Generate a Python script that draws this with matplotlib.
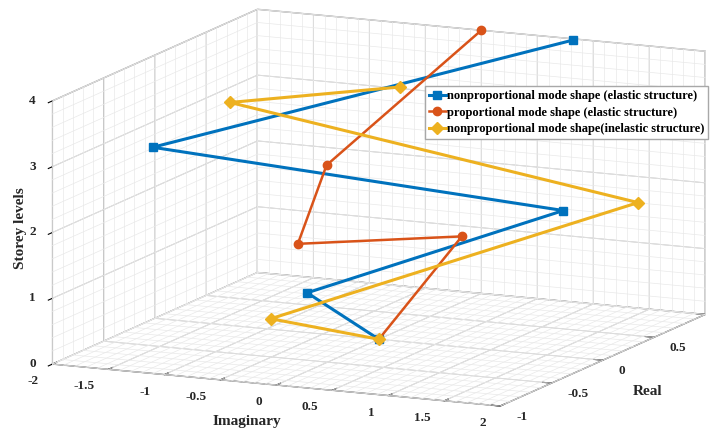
import numpy as np
import matplotlib
matplotlib.use("Agg")
import matplotlib.pyplot as plt
from mpl_toolkits.mplot3d import proj3d

# storey levels and mode shape components (imaginary, real)
storey = [0, 1, 2, 3, 4]

np_el_imag = [0, -0.21, 1.41, -1.58, 0.84]
np_el_real = [0, -0.47, 0.26, -0.48, 0.98]

p_el_imag = [0, 0, 0, 0, 0]
p_el_real = [0, 0.81, -0.79, -0.51, 1.0]

np_inel_imag = [0, -0.05, 1.83, -1.75, 0.34]
np_inel_real = [0, -1.0, 0.53, 0.46, -0.16]

labels = ["nonproportional mode shape (elastic structure)",
          "proportional mode shape (elastic structure)",
          "nonproportional mode shape(inelastic structure)"]

xticks = [-2, -1.5, -1, -0.5, 0, 0.5, 1, 1.5, 2]
yticks = [-1, -0.5, 0, 0.5, 1]
ytick_labels = ['-1', '-0.5', '0', '0.5', '']
zticks = [0, 1, 2, 3, 4]

plt.rcParams['font.family'] = ['Liberation Serif', 'DejaVu Serif']
plt.rcParams['axes.unicode_minus'] = False
plt.rcParams['grid.color'] = '#bcbcbc'
plt.rcParams['grid.linewidth'] = 0.7

W, H = 720, 434
fig = plt.figure(figsize=(W / 100, H / 100), dpi=100)
ax = fig.add_subplot(111, projection='3d', proj_type='ortho', computed_zorder=False)
ax.set_position([0.018, 0.008, 1, 1])
ax.view_init(elev=11.8, azim=-65.4)
ax.set_box_aspect((1, 1.0, 0.546), zoom=1.67)

ax.set_xlim(-2, 2)
ax.set_ylim(-1, 1)
ax.set_zlim(0, 4)

# light minor grid on the three back walls
mc = '#e9e9e9'
for xv in np.arange(-2, 2.01, 0.1):
    ax.plot([xv, xv], [1, 1], [0, 4], color=mc, lw=0.5, zorder=1, clip_on=False)
    ax.plot([xv, xv], [-1, 1], [0, 0], color=mc, lw=0.5, zorder=1, clip_on=False)
for yv in np.arange(-1, 1.01, 0.1):
    ax.plot([-2, -2], [yv, yv], [0, 4], color=mc, lw=0.5, zorder=1, clip_on=False)
    ax.plot([-2, 2], [yv, yv], [0, 0], color=mc, lw=0.5, zorder=1, clip_on=False)
for zv in np.arange(0, 4.01, 0.2):
    ax.plot([-2, 2], [1, 1], [zv, zv], color=mc, lw=0.5, zorder=1, clip_on=False)
    ax.plot([-2, -2], [-1, 1], [zv, zv], color=mc, lw=0.5, zorder=1, clip_on=False)

ax.plot(np_el_imag, np_el_real, storey, color='#0072BD', lw=2.2,
        marker='s', ms=5.5, label=labels[0], zorder=5, clip_on=False)
ax.plot(p_el_imag, p_el_real, storey, color='#D95319', lw=1.8,
        marker='o', ms=6, label=labels[1], zorder=5, clip_on=False)
ax.plot(np_inel_imag, np_inel_real, storey, color='#EDB120', lw=2.2,
        marker='D', ms=6, label=labels[2], zorder=5, clip_on=False)

ax.set_xticks(xticks)
ax.set_yticks(yticks)
ax.set_zticks(zticks)

for axis in (ax.xaxis, ax.yaxis, ax.zaxis):
    axis.set_tick_params(labelbottom=False, labeltop=False)
    axis.label.set_visible(False)
    axis.offsetText.set_visible(False)
    axis.set_pane_color((1, 1, 1, 1))
    axis.pane.set_edgecolor('#a8a8a8')
    axis.line.set_color('#808080')
    axis.line.set_linewidth(0.8)
    axis._axinfo['tick']['inward_factor'] = 0.0
    axis._axinfo['tick']['outward_factor'] = 0.25
    axis._axinfo['tick']['color'] = '#808080'
ax.zaxis._axinfo['tick']['inward_factor'] = 0.25
ax.zaxis._axinfo['tick']['outward_factor'] = 0.0
ax.zaxis.set_ticks_position('lower')

fig.canvas.draw()


def fig_pos(x, y, z):
    # project a 3D point to figure fraction coordinates
    px, py, _ = proj3d.proj_transform(x, y, z, ax.M)
    dx, dy = ax.transData.transform((px, py))
    return dx / W, dy / H


# tick labels placed next to the axis lines (MATLAB style)
tk = dict(fontsize=9.5, fontweight='bold', va='center', color='#262626')
for xv in xticks:
    fig.text(*fig_pos(xv, -1.136, -0.1635), f'{xv:g}', ha='right', **tk)
for yv, lab in zip(yticks, ytick_labels):
    if lab:
        fig.text(*fig_pos(2.143, yv, -0.1445), lab, ha='left', **tk)
for zv in zticks:
    fig.text(*fig_pos(-2.148, -1.034, zv), f'{zv:g}', ha='center', **tk)

lb = dict(fontsize=11, fontweight='bold', ha='center', va='center', color='#262626')
fig.text(0.343, 0.028, 'Imaginary', **lb)
fig.text(0.899, 0.097, 'Real', **lb)
fig.text(0.028, 0.475, 'Storey levels', rotation=90, **lb)

ax.legend(loc='upper left', bbox_to_anchor=(0.590, 0.801), bbox_transform=fig.transFigure,
          prop={'size': 9, 'weight': 'bold'}, borderaxespad=0,
          handlelength=1.4, handletextpad=0.05, borderpad=0.3, labelspacing=0.36,
          frameon=True, fancybox=False, edgecolor='#a8a8a8', framealpha=1.0)

fig.savefig('out.png', dpi=100)
